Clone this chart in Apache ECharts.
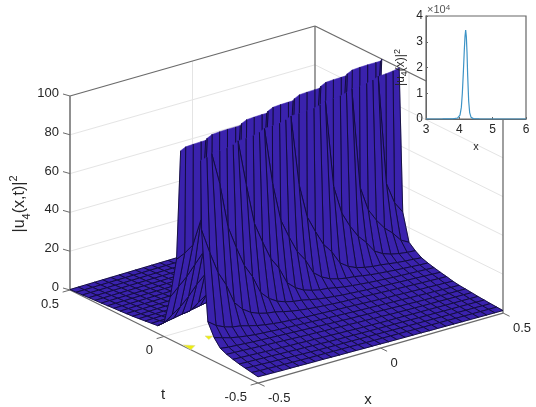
<!DOCTYPE html>
<html><head><meta charset="utf-8">
<style>html,body{margin:0;padding:0;background:#fff}#c{width:536px;height:407px}</style>
<script src="https://cdn.jsdelivr.net/npm/echarts@6/dist/echarts.min.js"></script>
</head><body><div id="c"></div>
<script>
// ---- data ----
const xValues=[-0.5,-0.4667,-0.4333,-0.4,-0.3667,-0.3333,-0.3,-0.2667,-0.2333,-0.2,-0.1667,-0.1333,-0.1,-0.0667,-0.0333,0,0.0333,0.0667,0.1,0.1333,0.1667,0.2,0.2333,0.2667,0.3,0.3333,0.3667,0.4,0.4333,0.4667,0.5];
const tValues=[-0.5,-0.4667,-0.4333,-0.4,-0.3667,-0.3333,-0.3,-0.2667,-0.2333,-0.2,-0.1667,-0.1333,-0.1,-0.0667,-0.0333,0,0.0333,0.0667,0.1,0.1333,0.1667,0.2,0.2333,0.2667,0.3,0.3333,0.3667,0.4,0.4333,0.4667,0.5];
// column where the ridge starts, for each t row
const ridgeColumn=[-54,-50,-46,-42,-38,-33,-29,-25,-21,-16,-12,-8,-4,0,5,9,13,17,21,26,30,34,38,42,46,51,55,59,63,67,71];
// |u|^2 to the right of the ridge start, column by column
const frontProfile=[43,45,48,60,130,400,1000,9000,8000,3000,1500,800,300,155,100,75,55,45,36,30,21,17,14.5,13,12,11.5,10.5,9.5,8.8,8.2,7.7,7.4,7.1,6.8,6.6,6.4,6.2,6,5.8,5.6,5.4,5.2,5,4.8,4.7,4.5,4.4,4.2,4.1,3.9,3.8,3.6,3.5,3.3,3.2,3.1,3,2.9,2.85,2.8,2.7,2.65,2.6,2.5,2.4,2.35,2.3,2.2,2.15,2.1,2,1.95,1.9,1.85,1.8,1.7,1.65,1.6,1.55,1.5,1.45,1.4,1.35,1.3,1.25];
// |u|^2 to the left of the ridge start, column by column
const backProfile=[43,40,35,30,26,22,17,13,10,7,6.4,5.6,4.8,4,3.9,3.8,3.7,3.6,3.5,3.4,3.3,3.2,3.1,3,2.95,2.9,2.8,2.7,2.6,2.5,2.45,2.4,2.35,2.3,2.2,2.15,2.1,2,1.95,1.9,1.85,1.8,1.75,1.7,1.6,1.55,1.5,1.45,1.4,1.35,1.3,1.25,1.2,1.15,1.1,1.05,1,0.95,0.9,0.85,0.8,0.75,0.7,0.65,0.6,0.55,0.5,0.45,0.4,0.35,0.3,0.25];
// how tall the wall's skirt stands in each column
const skirtByColumn=[1.2,1.18,1.15,1.12,1.1,1.08,1.05,1.02,1,0.98,0.95,0.93,0.9,0.88,0.85,0.83,0.8,0.78,0.75,0.73,0.7,0.68,0.65,0.63,0.6,0.58,0.56,0.55,0.53,0.52,0.5];
const xTicks=[-0.5,0,0.5];
const tTicks=[-0.5,0,0.5];
const zTicks=[0,20,40,60,80,100];
const yellowPatches=[[[-0.495,-0.095],[-0.467,-0.122],[-0.5,-0.143]],[[-0.391,-0.076],[-0.371,-0.092],[-0.4,-0.108]]];
const insetX=[3,3.5,3.8,3.95,4.02,4.06,4.09,4.12,4.15,4.17,4.19,4.21,4.23,4.25,4.28,4.31,4.35,4.42,4.6,5,6];
const insetY=[0,20,80,400,1500,4500,10000,18000,27000,32000,34500,32000,26000,17000,7000,2500,700,150,40,0,0];

// ---- view ----
const FONT='"Liberation Sans",Arial,sans-serif';
const AXIS='#6b6b6b',GRID='#e4e4e4',FILL='#3a22ad',EDGE='#0e0a34',TEXT='#262626';
const TOP=100;
function proj(x,t,z){
  const a=x+0.5,b=t+0.5;
  return [258+245*a-188*b, 383-70*a-93*b-1.94*z];
}
function zAt(i,j){
  const k=i-ridgeColumn[j];
  const z=k>=0?frontProfile[Math.min(k,frontProfile.length-1)]:backProfile[Math.min(-k,backProfile.length-1)];
  return (k>=7&&z>8&&z<100)?8+(z-8)*skirtByColumn[i]:z;
}
// cells far to near
const cells=[];
for(let j=tValues.length-2;j>=0;j--)for(let i=xValues.length-2;i>=0;i--){
  cells.push([xValues[i],xValues[i+1],tValues[j],tValues[j+1],zAt(i,j),zAt(i+1,j),zAt(i+1,j+1),zAt(i,j+1)]);
}
function clipTop(pts,lim){
  const out=[];
  for(let n=0;n<pts.length;n++){
    const p=pts[n],q=pts[(n+1)%pts.length];
    if(p[2]<=lim)out.push(p);
    if((p[2]<=lim)!==(q[2]<=lim)){
      const f=(lim-p[2])/(q[2]-p[2]);
      out.push([p[0]+f*(q[0]-p[0]),p[1]+f*(q[1]-p[1]),lim]);
    }
  }
  return out;
}
function lineEl(a,b,color,w){
  return {type:'line',shape:{x1:a[0],y1:a[1],x2:b[0],y2:b[1]},style:{stroke:color,lineWidth:w}};
}
function textEl(s,x,y,size,align,extra){
  return Object.assign({type:'text',x:x,y:y,style:Object.assign({text:s,font:size+'px '+FONT,fill:TEXT,align:align,verticalAlign:'middle'},extra||{})});
}
function frame(){
  const kids=[];
  const L=-0.5,H=0.5,ZT=100;
  zTicks.forEach(z=>{
    if(z>0&&z<ZT){
      kids.push(lineEl(proj(L,H,z),proj(H,H,z),GRID,1));
      kids.push(lineEl(proj(H,H,z),proj(H,L,z),GRID,1));
    }
  });
  kids.push(lineEl(proj(0,H,0),proj(0,H,ZT),GRID,1));
  kids.push(lineEl(proj(H,0,0),proj(H,0,ZT),GRID,1));
  kids.push(lineEl(proj(L,0,0),proj(H,0,0),GRID,1));
  kids.push(lineEl(proj(0,L,0),proj(0,H,0),GRID,1));
  kids.push(lineEl(proj(L,H,ZT),proj(H,H,ZT),AXIS,1.3));
  kids.push(lineEl(proj(H,H,ZT),proj(H,L,ZT),AXIS,1.3));
  kids.push(lineEl(proj(H,H,0),proj(H,H,ZT),AXIS,1.3));
  kids.push(lineEl(proj(H,L,0),proj(H,L,ZT),AXIS,1.3));
  kids.push(lineEl(proj(L,H,0),proj(L,H,ZT),'#7d7d7d',1.7));
  kids.push(lineEl(proj(L,H,0),proj(L,L,0),AXIS,1.3));
  kids.push(lineEl(proj(L,L,0),proj(H,L,0),AXIS,1.3));
  yellowPatches.forEach(p=>{
    kids.push({type:'polygon',shape:{points:p.map(q=>proj(q[0],q[1],0))},style:{fill:'#eded10',stroke:'#dcdca0',lineWidth:0.6}});
  });
  zTicks.forEach(z=>{
    const p=proj(L,H,z);
    kids.push(lineEl(p,[p[0]-7,p[1]-2],AXIS,1));
    kids.push(textEl(String(z),p[0]-11,p[1]-2.5,13,'right'));
  });
  xTicks.forEach(x=>{
    const p=proj(x,L,0);
    kids.push(lineEl(p,proj(x,L-0.035,0),AXIS,1));
    kids.push(textEl(String(x),p[0]+10,p[1]+15,13,'left'));
  });
  tTicks.forEach(t=>{
    const p=proj(L,t,0);
    kids.push(lineEl(p,proj(L-0.03,t,0),AXIS,1));
    kids.push(textEl(String(t),p[0]-11,p[1]+14,13,'right'));
  });
  kids.push(textEl('x',368,400,15,'center'));
  kids.push(textEl('t',163,395,15,'center'));
  kids.push({type:'text',x:20,y:204,rotation:Math.PI/2,style:{
    text:'{a||u}{s|4}{a|(x,t)|}{p|2}',align:'center',verticalAlign:'middle',fill:TEXT,
    rich:{a:{font:'16px '+FONT,fill:TEXT,lineHeight:24},
          s:{font:'11px '+FONT,fill:TEXT,verticalAlign:'bottom',lineHeight:24},
          p:{font:'11px '+FONT,fill:TEXT,verticalAlign:'top',lineHeight:24}}}});
  return {type:'group',children:kids};
}
const option={
  animation:false,
  backgroundColor:'#fff',
  grid:{left:426,top:16,width:100,height:103,show:true,backgroundColor:'#fff',borderColor:'#666',borderWidth:1.2,z:5,containLabel:false},
  xAxis:{type:'value',min:3,max:6,interval:1,z:6,
    axisLine:{lineStyle:{color:'#666'}},axisTick:{inside:true,length:2,lineStyle:{color:'#666'}},splitLine:{show:false},
    axisLabel:{color:TEXT,fontSize:12,fontFamily:FONT,margin:5,showMinLabel:true,showMaxLabel:true},
    name:'x',nameLocation:'middle',nameGap:22,nameTextStyle:{color:TEXT,fontSize:11,fontFamily:FONT}},
  yAxis:{type:'value',min:0,max:40000,interval:10000,z:6,
    axisLine:{lineStyle:{color:'#666'}},axisTick:{inside:true,length:2,lineStyle:{color:'#666'}},splitLine:{show:false},
    axisLabel:{color:TEXT,fontSize:12,fontFamily:FONT,margin:3,formatter:v=>String(v/10000),showMinLabel:true,showMaxLabel:true},
    name:'{a||u}{s|4}{a|(x)|}{p|2}',nameLocation:'middle',nameGap:17,nameRotate:90,
    nameTextStyle:{rich:{a:{fontSize:12,color:TEXT,fontFamily:FONT,lineHeight:16},s:{fontSize:9,color:TEXT,fontFamily:FONT,verticalAlign:'bottom',lineHeight:16},p:{fontSize:9,color:TEXT,fontFamily:FONT,verticalAlign:'top',lineHeight:16}}}},
  graphic:[{type:'text',left:427,top:4,z:10,style:{text:'×10{e|4}',fill:'#555',font:'11px '+FONT,rich:{e:{font:'8px '+FONT,fill:'#555',verticalAlign:'top'}}}}],
  series:[
    {type:'custom',coordinateSystem:'none',z:1,silent:true,data:[0],renderItem:()=>frame()},
    {type:'custom',coordinateSystem:'none',z:2,silent:true,data:cells,clip:false,
     renderItem:(params,api)=>{
       const x0=api.value(0),x1=api.value(1),t0=api.value(2),t1=api.value(3);
       const pts=clipTop([[x0,t0,api.value(4)],[x1,t0,api.value(5)],[x1,t1,api.value(6)],[x0,t1,api.value(7)]],TOP);
       if(pts.length<3)return null;
       const scr=pts.map(p=>proj(p[0],p[1],p[2]));
       const kids=[{type:'polygon',shape:{points:scr},style:{fill:FILL,stroke:FILL,lineWidth:0.5}}];
       for(let n=0;n<pts.length;n++){
         const m=(n+1)%pts.length;
         if(pts[n][2]>=TOP&&pts[m][2]>=TOP)continue; // the cut along the top of the box has no mesh line
         kids.push(lineEl(scr[n],scr[m],EDGE,0.9));
       }
       return {type:'group',children:kids};
     }},
    {type:'line',data:insetX.map((x,i)=>[x,insetY[i]]),z:7,showSymbol:false,smooth:false,lineStyle:{color:'#3d93c6',width:1.2}}
  ]
};
const chart=echarts.init(document.getElementById('c'),null,{renderer:'canvas'});
chart.setOption(option);
</script></body></html>
